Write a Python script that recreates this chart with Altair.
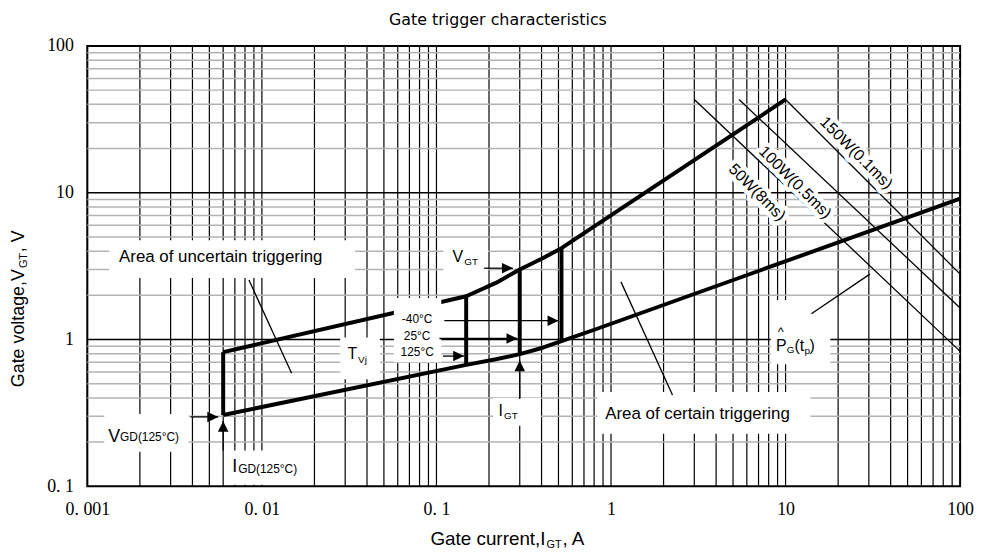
import altair as alt
import pandas as pd

# ---------------- data ----------------
X_TICKS = [0.001, 0.01, 0.1, 1, 10, 100]
X_TICK_LABELS = ["0. 001", "0. 01", "0. 1", "1", "10", "100"]
Y_TICKS = [0.1, 1, 10, 100]
Y_TICK_LABELS = ["0. 1", "1", "10", "100"]

X_DECADES = [0.001, 0.01, 0.1, 1, 10]
Y_DECADES = [0.1, 1, 10]
MULTIPLIERS = [1, 2, 3, 4, 5, 6, 7, 8, 9]
Y_MAJOR = [1, 10]

# thick boundary curves (gate current A, gate voltage V)
UPPER_I = [0.006, 0.148, 0.219, 0.3, 0.406, 0.52, 10]
UPPER_V = [0.82, 1.97, 2.43, 3.0, 3.58, 4.19, 43.2]
LOWER_I = [0.006, 0.148, 0.219, 0.3, 0.406, 0.52, 0.81, 100]
LOWER_V = [0.306, 0.672, 0.733, 0.795, 0.879, 0.974, 1.17, 9.1]

# thick vertical lines (I_GD and the three temperatures)
VERT_I = [0.006, 0.148, 0.3, 0.52]
VERT_LO = [0.306, 0.672, 0.795, 0.974]
VERT_HI = [0.82, 1.97, 3.0, 4.19]

# power-limit lines
POWER_LABELS = ["150W(0.1ms)", "100W(0.5ms)", "50W(8ms)"]
POWER_I1 = [10, 5.41, 3.0]
POWER_V1 = [43.2, 43.2, 43.2]
POWER_I2 = [100, 100, 100]
POWER_V2 = [2.79, 1.64, 0.83]
POWER_LABEL_I = [25.4, 11.35, 6.87]
POWER_LABEL_V = [18.7, 11.75, 10.05]

# leader lines (uncertain, certain, P_G)
LEADER_I1 = [0.00843, 1.14, 14.06]
LEADER_V1 = [2.54, 2.47, 1.50]
LEADER_I2 = [0.0148, 2.25, 30.4]
LEADER_V2 = [0.589, 0.419, 2.79]

# arrows: tail -> tip
ARROW_I0 = [0.1875, 0.111, 0.104, 0.109, 0.300, 0.0039, 0.006]
ARROW_V0 = [3.06, 1.343, 1.016, 0.771, 0.394, 0.297, 0.175]
ARROW_I1 = [0.274, 0.500, 0.291, 0.144, 0.300, 0.00562, 0.006]
ARROW_V1 = [3.06, 1.343, 1.016, 0.771, 0.72, 0.297, 0.279]
ARROW_DIR = ["right", "right", "right", "right", "up", "right", "up"]

# white label backgrounds
BOX_I1 = [0.001334, 0.1096, 0.0570, 0.0281, 0.211, 0.8324, 0.00125, 0.00632, 8.22]
BOX_I2 = [0.0342, 0.1973, 0.1066, 0.0474, 0.395, 13.87, 0.00380, 0.01603, 18.03]
BOX_V1 = [2.62, 2.88, 0.700, 0.537, 0.258, 0.228, 0.172, 0.1025, 0.678]
BOX_V2 = [4.74, 4.59, 1.92, 1.031, 0.399, 0.4385, 0.311, 0.175, 1.862]

# text pieces: (I, V, text, size, align, dx, dy)
LABEL_PIECES = [
    (0.00581, 3.35, "Area of uncertain triggering", 17, "center", 0, 0),
    (3.13, 0.288, "Area of certain triggering", 17, "center", 0, 0),
    (0.1423, 3.37, "V", 16, "right", 0, 0),
    (0.1423, 3.37, "GT", 10, "left", 1, 3),
    (0.0351, 0.733, "T", 16, "right", 0, 0),
    (0.0351, 0.733, "Vj", 10, "left", 1, 4),
    (0.2404, 0.302, "I", 16, "right", 0, 0),
    (0.2404, 0.302, "GT", 10, "left", 1, 3),
    (0.00154, 0.201, "V", 18, "right", 0, 0),
    (0.00154, 0.201, "GD(125°C)", 12, "left", 0, -1),
    (0.00722, 0.1245, "I", 18, "right", 0, 0),
    (0.00722, 0.1245, "GD(125°C)", 12, "left", 1, 1),
    (10.14, 0.830, "P", 16, "right", 0, 0),
    (10.14, 0.830, "G", 10, "left", 0, 2),
    (10.14, 0.830, "(t", 16, "left", 8, 0),
    (10.14, 0.830, "p", 10, "left", 18, 3),
    (10.14, 0.830, ")", 16, "left", 23, 0),
    (10.14, 0.830, "^", 13, "center", -6, -16),
    (0.0775, 1.303, "-40°C", 12, "center", 0, 0),
    (0.0775, 1.0, "25°C", 12, "center", 0, 0),
    (0.0775, 0.771, "125°C", 12, "center", 0, 0),
]

X_TITLE = ["Gate current,I", "GT", ",  A"]
Y_TITLE = ["Gate voltage,V", "GT", ",  V"]
TITLE = "Gate trigger characteristics"

# ---------------- chart ----------------
W, H = 880, 444
FONT = "Liberation Sans"
TICK_FONT = "Liberation Serif"
TICK_SIZE = 18
xs = alt.Scale(type="log", domain=[0.001, 100], nice=False)
ys = alt.Scale(type="log", domain=[0.1, 100], nice=False)


def lab_expr(vals, labels):
    # pick the label of the tick whose decade the value falls in (robust to float noise)
    parts = [f"datum.value < {v * 3.1623:.6g} ? '{l}'" for v, l in zip(vals[:-1], labels[:-1])]
    return " : ".join(parts) + f" : '{labels[-1]}'"


AXIS_COMMON = dict(title=None, ticks=False, domain=False, grid=False,
                   labelFont=TICK_FONT, labelFontSize=TICK_SIZE, labelColor="black",
                   labelPadding=14, labelFlush=False, labelOverlap=False)
x_axis = alt.Axis(values=X_TICKS, labelExpr=lab_expr(X_TICKS, X_TICK_LABELS), **AXIS_COMMON)
y_axis = alt.Axis(values=Y_TICKS, labelExpr=lab_expr(Y_TICKS, Y_TICK_LABELS), **AXIS_COMMON)


# every layer shares the same axis definition so the merged axes stay enabled
def XQ(f):
    return alt.X(f, type="quantitative", scale=xs, axis=x_axis)


def YQ(f):
    return alt.Y(f, type="quantitative", scale=ys, axis=y_axis)


vgrid = pd.DataFrame({"I": [d * m for d in X_DECADES for m in MULTIPLIERS] + [100]})
hminor = pd.DataFrame({"V": [d * m for d in Y_DECADES for m in MULTIPLIERS[1:]]})
hmajor = pd.DataFrame({"V": Y_MAJOR})

layers = []
layers.append(alt.Chart(vgrid).mark_rule(color="black", strokeWidth=1.2).encode(x=XQ("I")))
layers.append(alt.Chart(hminor).mark_rule(color="#b3b3b3", strokeWidth=1.5).encode(y=YQ("V")))
layers.append(alt.Chart(hmajor).mark_rule(color="black", strokeWidth=1.4).encode(y=YQ("V")))

power = pd.DataFrame({"I1": POWER_I1, "V1": POWER_V1, "I2": POWER_I2, "V2": POWER_V2})
layers.append(alt.Chart(power).mark_rule(color="black", strokeWidth=1.3).encode(
    x=XQ("I1"), y=YQ("V1"), x2="I2", y2="V2"))

curves = pd.DataFrame({
    "I": UPPER_I + LOWER_I,
    "V": UPPER_V + LOWER_V,
    "curve": ["upper"] * len(UPPER_I) + ["lower"] * len(LOWER_I),
    "ord": list(range(len(UPPER_I))) + list(range(len(LOWER_I))),
})
layers.append(alt.Chart(curves).mark_line(color="black", strokeWidth=4, strokeJoin="round").encode(
    x=XQ("I"), y=YQ("V"), detail="curve:N", order="ord:Q"))

verts = pd.DataFrame({"I": VERT_I, "lo": VERT_LO, "hi": VERT_HI})
layers.append(alt.Chart(verts).mark_rule(color="black", strokeWidth=4).encode(
    x=XQ("I"), y=YQ("lo"), y2="hi"))

boxes = pd.DataFrame({"I1": BOX_I1, "I2": BOX_I2, "V1": BOX_V1, "V2": BOX_V2})
layers.append(alt.Chart(boxes).mark_rect(color="white", opacity=1).encode(
    x=XQ("I1"), x2="I2", y=YQ("V1"), y2="V2"))

leaders = pd.DataFrame({"I1": LEADER_I1, "V1": LEADER_V1, "I2": LEADER_I2, "V2": LEADER_V2})
layers.append(alt.Chart(leaders).mark_rule(color="black", strokeWidth=1.3).encode(
    x=XQ("I1"), y=YQ("V1"), x2="I2", y2="V2"))

arrows = pd.DataFrame({"I0": ARROW_I0, "V0": ARROW_V0, "I1": ARROW_I1, "V1": ARROW_V1, "dir": ARROW_DIR})
layers.append(alt.Chart(arrows).mark_rule(color="black", strokeWidth=1.3).encode(
    x=XQ("I0"), y=YQ("V0"), x2="I1", y2="V1"))
HEAD_PATHS = {"right": "M0,0L-1,-0.48L-1,0.48Z", "up": "M0,0L-0.48,1L0.48,1Z"}
for d, path in HEAD_PATHS.items():
    sub = arrows[arrows["dir"] == d]
    layers.append(alt.Chart(sub).mark_point(shape=path, filled=True, color="black", opacity=1,
                                            size=484, strokeWidth=0).encode(
        x=XQ("I1"), y=YQ("V1")))

plabels = pd.DataFrame({"I": POWER_LABEL_I, "V": POWER_LABEL_V, "t": POWER_LABELS})
layers.append(alt.Chart(plabels).mark_text(font=FONT, fontSize=16, angle=45, align="center",
                                           baseline="middle", color="white", stroke="white",
                                           strokeWidth=9, strokeJoin="round").encode(
    x=XQ("I"), y=YQ("V"), text="t:N"))
layers.append(alt.Chart(plabels).mark_text(font=FONT, fontSize=16, angle=45, align="center",
                                           baseline="middle", color="black").encode(
    x=XQ("I"), y=YQ("V"), text="t:N"))

pieces = pd.DataFrame(LABEL_PIECES, columns=["I", "V", "t", "size", "align", "dx", "dy"])
for (al, dx, dy), grp in pieces.groupby(["align", "dx", "dy"]):
    layers.append(alt.Chart(grp).mark_text(font=FONT, align=al, dx=int(dx), dy=int(dy),
                                           baseline="alphabetic", color="black").encode(
        x=XQ("I"), y=YQ("V"), text="t:N", size=alt.Size("size:Q", scale=None)))

# axis titles with subscripts (placed just outside the plot area)
xt = pd.DataFrame({"t": X_TITLE})
XT_X, XT_Y = 462, 503
layers.append(alt.Chart(xt.iloc[[0]]).mark_text(font=FONT, fontSize=19, align="right",
                                                baseline="alphabetic", color="black").encode(
    x=alt.value(XT_X), y=alt.value(XT_Y), text="t:N"))
layers.append(alt.Chart(xt.iloc[[1]]).mark_text(font=FONT, fontSize=11, align="left", dx=1, dy=3,
                                                baseline="alphabetic", color="black").encode(
    x=alt.value(XT_X), y=alt.value(XT_Y), text="t:N"))
layers.append(alt.Chart(xt.iloc[[2]]).mark_text(font=FONT, fontSize=19, align="left", dx=17,
                                                baseline="alphabetic", color="black").encode(
    x=alt.value(XT_X), y=alt.value(XT_Y), text="t:N"))

yt = pd.DataFrame({"t": Y_TITLE})
YT_X, YT_Y = -64, 225
layers.append(alt.Chart(yt.iloc[[0]]).mark_text(font=FONT, fontSize=18, align="right", angle=270,
                                                baseline="alphabetic", color="black").encode(
    x=alt.value(YT_X), y=alt.value(YT_Y), text="t:N"))
layers.append(alt.Chart(yt.iloc[[1]]).mark_text(font=FONT, fontSize=11, align="left", angle=270,
                                                dx=1, dy=3, baseline="alphabetic",
                                                color="black").encode(
    x=alt.value(YT_X), y=alt.value(YT_Y), text="t:N"))
layers.append(alt.Chart(yt.iloc[[2]]).mark_text(font=FONT, fontSize=18, align="left", angle=270,
                                                dx=17, baseline="alphabetic",
                                                color="black").encode(
    x=alt.value(YT_X), y=alt.value(YT_Y), text="t:N"))

chart = alt.layer(*layers).properties(
    width=W, height=H,
    title=alt.TitleParams(text=TITLE, font="DejaVu Sans", fontSize=16, fontWeight="normal",
                          color="black", anchor="middle", dx=-26, offset=9),
    autosize=alt.AutoSizeParams(type="none"),
    padding={"left": 80, "top": 36, "right": 16, "bottom": 64},
    background="white",
).configure_view(stroke="black", strokeWidth=2).configure_axis(
    labelFont=TICK_FONT, labelFontSize=TICK_SIZE, labelColor="black", labelPadding=14
)

chart.save("out.html", embed_options={"renderer": "svg", "actions": False})
